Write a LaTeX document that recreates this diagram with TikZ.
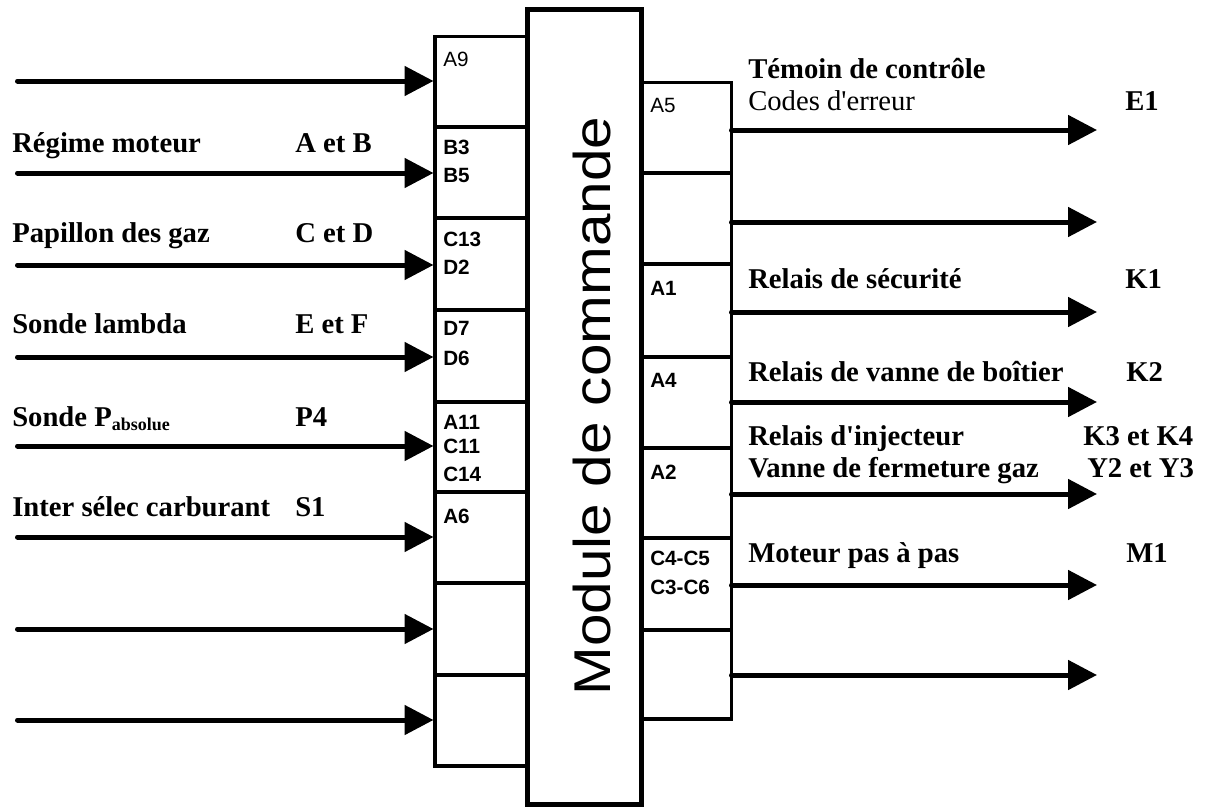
\documentclass[tikz,border=0pt]{standalone}
\usepackage{fontspec}
\setmainfont{Liberation Serif}
\setsansfont{Liberation Sans}
\newfontfamily\labfont{Liberation Serif}
\usetikzlibrary{arrows.meta}
\tikzset{
  sig/.style={line width=3.75pt,line cap=round,-{Triangle[length=21.75pt,width=21.75pt]}},
  cell/.style={line width=2.4pt},
  cellthick/.style={line width=3.4pt},
  lab/.style={anchor=base west,inner sep=0pt,font=\labfont\fontsize{21.5}{24}\selectfont\bfseries},
  labreg/.style={anchor=base west,inner sep=0pt,font=\labfont\fontsize{21.5}{24}\selectfont},
  pin/.style={anchor=base west,inner sep=0pt,font=\sffamily\fontsize{15.5}{18}\selectfont\bfseries},
  pinreg/.style={anchor=base west,inner sep=0pt,font=\sffamily\fontsize{15.5}{18}\selectfont},
}
\begin{document}
\begin{tikzpicture}[x=0.75pt,y=-0.75pt]
	\useasboundingbox (0,0) rectangle (1211,807);
	% module de commande
	\draw[line width=3.75pt] (527.5,9) rectangle (641,804);
	\node[rotate=90,anchor=base,inner sep=0pt,font=\sffamily\fontsize{38.8}{40}\selectfont] (module) at (610,406) {\scalebox{1.13}[1]{Module de commande}};
	% connecteur des entrees
	\draw[cell] (435,36.5) rectangle (527.5,766);
	\foreach \y in {218,310,402,492,675}
		\draw[cell] (435,\y) -- (527.5,\y);
	\foreach \y in {127,583}
		\draw[cellthick] (435,\y) -- (527.5,\y);
	% connecteur des sorties
	\draw[cell] (641,82.5) rectangle (731.5,719);
	\foreach \y in {173,264,357,448,538,630}
		\draw[cell] (641,\y) -- (731.5,\y);
	% fleches d'entree
	\foreach \y [count=\i] in {81,173,265,357,446,537,629,720}{
		\coordinate (srcL\i) at (17.5,\y);
		\coordinate (pinL\i) at (433.5,\y);
		\draw[sig] (srcL\i) -- (pinL\i);
	}
	% fleches de sortie
	\foreach \y [count=\i] in {130,222,312,402,494,585,675}{
		\coordinate (pinR\i) at (731.5,\y);
		\coordinate (dstR\i) at (1097,\y);
		\draw[sig] (pinR\i) -- (dstR\i);
	}
	% broches
	\node[pinreg] (pinA9) at (443,66) {A9};
	\foreach \txt/\py [count=\k] in {B3/154,B5/182,C13/246,D2/274,D7/335,D6/365,A11/429,C11/453,C14/481,A6/523}
		\node[pin] (pinlabL\k) at (443,\py) {\txt};
	\node[pinreg] (pinA5) at (650,112) {A5};
	\foreach \txt/\py [count=\k] in {A1/295,A4/387,A2/479,C4-C5/565,C3-C6/594}
		\node[pin] (pinlabR\k) at (650,\py) {\txt};
	% capteurs
	\node[lab] (regime) at (12,152) {Régime moteur};
	\node[lab] (regimeref) at (295,152) {A et B};
	\node[lab] (papillon) at (12,242) {Papillon des gaz};
	\node[lab] (papillonref) at (295,242) {C et D};
	\node[lab] (lambda) at (12,333) {Sonde lambda};
	\node[lab] (lambdaref) at (295,333) {E et F};
	\node[lab] (pabs) at (12,426) {Sonde P\raisebox{-3pt}{\fontsize{13.5}{14}\selectfont absolue}};
	\node[lab] (pabsref) at (295,426) {P4};
	\node[lab] (inter) at (12,516) {Inter sélec carburant};
	\node[lab] (interref) at (295,516) {S1};
	% actionneurs
	\node[lab] (temoin) at (748,78) {Témoin de contrôle};
	\node[labreg] (codes) at (748,110) {Codes d'erreur};
	\node[lab] (temoinref) at (1125,110) {E1};
	\node[lab] (securite) at (748,288) {Relais de sécurité};
	\node[lab] (securiteref) at (1125,288) {K1};
	\node[lab] (boitier) at (748,381) {Relais de vanne de boîtier};
	\node[lab] (boitierref) at (1126,381) {K2};
	\node[lab] (injecteur) at (748,445) {Relais d'injecteur};
	\node[lab] (injecteurref) at (1083,445) {K3 et K4};
	\node[lab] (vanne) at (748,477) {Vanne de fermeture gaz};
	\node[lab] (vanneref) at (1087,477) {Y2 et Y3};
	\node[lab] (pas) at (748,562) {Moteur pas à pas};
	\node[lab] (pasref) at (1126,562) {M1};
\end{tikzpicture}
\end{document}
